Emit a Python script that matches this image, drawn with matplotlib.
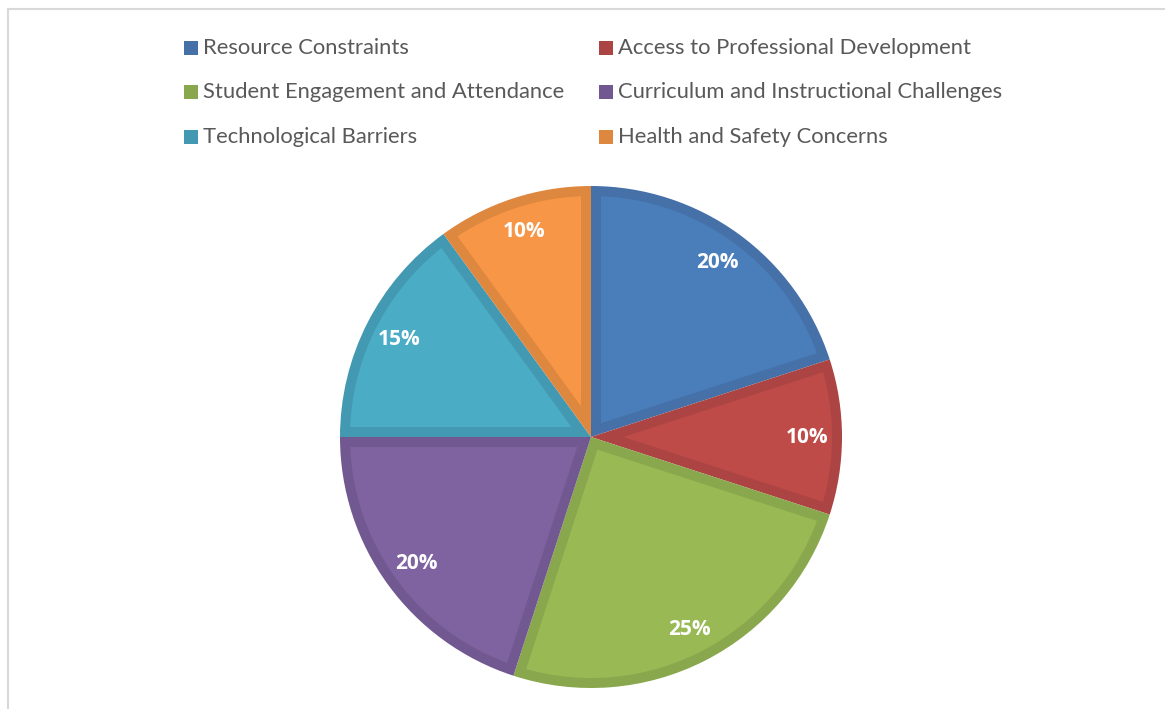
import numpy as np
import matplotlib
matplotlib.use("Agg")
import matplotlib.pyplot as plt
from matplotlib.patches import Rectangle, Polygon
from matplotlib.lines import Line2D

categories = ["Resource Constraints", "Access to Professional Development",
              "Student Engagement and Attendance", "Curriculum and Instructional Challenges",
              "Technological Barriers", "Health and Safety Concerns"]
values = [20, 10, 25, 20, 15, 10]
face_colors = ["#4A7EBB", "#BE4B48", "#98B954", "#7F62A0", "#4BACC6", "#F79646"]
edge_colors = ["#4571A8", "#AB4442", "#89A74C", "#725890", "#4399B1", "#DE873F"]

W, H = 1165, 709
fig = plt.figure(figsize=(W / 100, H / 100), dpi=100)
ax = fig.add_axes([0, 0, 1, 1])

cx, cy, R = 591, H - 437, 251
wedges, texts, autotexts = ax.pie(
    values, colors=edge_colors, startangle=90, counterclock=False,
    center=(cx, cy), radius=R, autopct="%1.0f%%", pctdistance=0.86,
    wedgeprops=dict(linewidth=0),
    textprops=dict(color="white", fontsize=15, fontweight="bold", family="Open Sans"))

# inner (lighter) face of each wedge, inset by the border band
band = 10
for w, fc, t in zip(wedges, face_colors, autotexts):
    t1, t2 = np.radians(w.theta1), np.radians(w.theta2)
    alpha = (t2 - t1) / 2
    beta = (t1 + t2) / 2
    c = np.array(w.center)
    apex = c + band / np.sin(alpha) * np.array([np.cos(beta), np.sin(beta)])
    r = w.r - band
    tt = np.sqrt(r ** 2 - band ** 2)
    delta = np.arctan2(band, tt)
    angs = np.linspace(t1 + delta, t2 - delta, 120)
    arc = c + r * np.column_stack([np.cos(angs), np.sin(angs)])
    pts = np.vstack([apex, arc])
    ax.add_patch(Polygon(pts, closed=True, facecolor=fc, edgecolor="none", zorder=w.get_zorder() + 0.1))
    t.set_zorder(5)

ax.set_xlim(0, W)
ax.set_ylim(0, H)
ax.set_aspect("equal")
ax.axis("off")

# chart frame
frame_col = "#D9D9D9"
ax.add_line(Line2D([8, 8], [H - 9, -5], color=frame_col, lw=1.5))
ax.add_line(Line2D([8, W + 5], [H - 9, H - 9], color=frame_col, lw=1.5))

# legend (two columns, row-wise order)
col_x = [184, 599]
row_y = [48, 92, 137]
for i, (name, ec) in enumerate(zip(categories, edge_colors)):
    r, c = divmod(i, 2)
    x = col_x[c]
    y = H - row_y[r]
    ax.add_patch(Rectangle((x, y - 7), 14, 14, facecolor=ec, edgecolor="none"))
    ax.text(x + 19, y, name, color="#595959", fontsize=15.8, family="Lato",
            va="center", ha="left")

fig.savefig("out.png", dpi=100)
